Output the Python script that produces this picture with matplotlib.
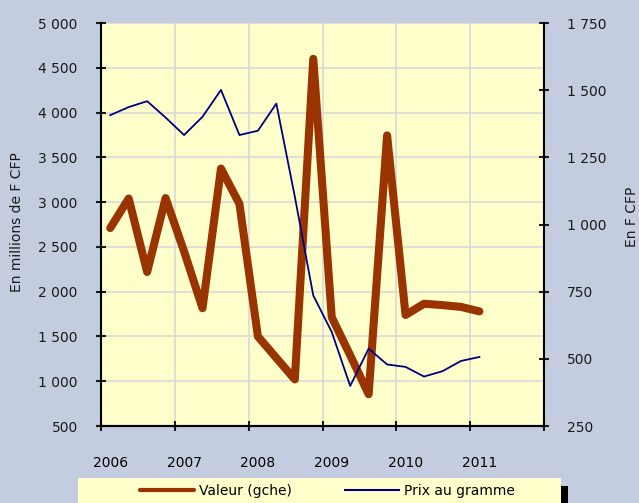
import numpy as np
import matplotlib.pyplot as plt
from matplotlib.patches import Rectangle
from matplotlib.ticker import FuncFormatter

# valeur des exportations (millions F CFP) et prix au gramme (F CFP), trimestriel 2006T1 - 2011T1
valeur = [2710, 3040, 2220, 3045, 2450, 1815, 3375, 2980, 1500, 1260, 1020,
          4600, 1715, 1290, 855, 3745, 1740, 1865, 1850, 1830, 1780]
prix = [1407, 1437, 1459, 1398, 1333, 1401, 1501, 1333, 1349, 1450, 1104,
        736, 600, 399, 538, 479, 470, 434, 454, 492, 507]
annees = ['2006', '2007', '2008', '2009', '2010', '2011']

BG = '#c4cde0'
FOND = '#ffffcc'
BRUN = '#993300'
BLEU = '#000080'

plt.rcParams['font.family'] = 'DejaVu Sans'
plt.rcParams['font.size'] = 10

W, H = 639, 503
fig = plt.figure(figsize=(W / 100, H / 100), dpi=100, facecolor=BG)
ax = fig.add_axes([101 / W, 1 - 426 / H, 443 / W, 403 / H])
ax.set_facecolor(FOND)

x = np.arange(len(valeur)) + 0.5
l1, = ax.plot(x, valeur, color=BRUN, lw=5.8, solid_capstyle='round',
              solid_joinstyle='round', label='Valeur (gche)', zorder=3)
ax.set_xlim(0, 24)
ax.set_ylim(500, 5000)
ax.set_yticks(np.arange(500, 5001, 500))

ax2 = ax.twinx()
l2, = ax2.plot(x, prix, color=BLEU, lw=1.3, label='Prix au gramme', zorder=4)
ax2.set_ylim(250, 1750)
ax2.set_yticks(np.arange(250, 1751, 250))

fmt = FuncFormatter(lambda v, p: '{:,.0f}'.format(v).replace(',', ' '))
ax.yaxis.set_major_formatter(fmt)
ax2.yaxis.set_major_formatter(fmt)

# ticks d'annee + etiquettes decalees
ax.set_xticks(np.arange(0, 25, 4))
ax.set_xticklabels([])
ax.set_xticks(np.arange(len(annees)) * 4 + 0.5, minor=True)
ax.set_xticklabels(annees, minor=True)
ax.tick_params(axis='x', which='minor', length=0, pad=21.5)

ax.grid(True, color='#d9d9d9', lw=1.2)
ax.set_axisbelow(True)

for a in (ax, ax2):
    a.tick_params(which='major', direction='inout', length=7.5, width=1.5,
                  colors='#1a1a1a', labelsize=10)
    for s in a.spines.values():
        s.set_linewidth(1.5)
    a.spines['top'].set_visible(False)
ax.tick_params(axis='y', pad=13)
ax2.tick_params(axis='y', pad=13)
ax2.spines['left'].set_visible(False)
ax.spines['right'].set_visible(False)

fig.text(17 / W, 1 - 222 / H, 'En millions de F CFP', rotation=90,
         ha='center', va='center', fontsize=10, color='#1a1a1a')
fig.text(632 / W, 1 - 217 / H, 'En F CFP', rotation=90,
         ha='center', va='center', fontsize=10, color='#1a1a1a')

# cadre de legende avec ombre
fig.add_artist(Rectangle((568 / W - 483 / W, 0), 483 / W, 1 - 486 / H,
                         transform=fig.transFigure, facecolor='black',
                         edgecolor='none', zorder=1))
fig.add_artist(Rectangle((78 / W, -0.02), 483 / W, 1 - 478.5 / H + 0.02,
                         transform=fig.transFigure, facecolor=FOND,
                         edgecolor='none', zorder=2))
leg = fig.legend([l1, l2], ['Valeur (gche)', 'Prix au gramme'], loc='center',
                 bbox_to_anchor=(327.5 / W, 1 - 490.5 / H), ncol=2,
                 frameon=False, handlelength=3.9, handletextpad=0.39,
                 columnspacing=3.8, fontsize=10)
leg.set_zorder(5)
leg.get_lines()[0].set_linewidth(3)
leg.get_lines()[1].set_linewidth(1.5)

fig.savefig('out.png', dpi=100, facecolor=BG)
